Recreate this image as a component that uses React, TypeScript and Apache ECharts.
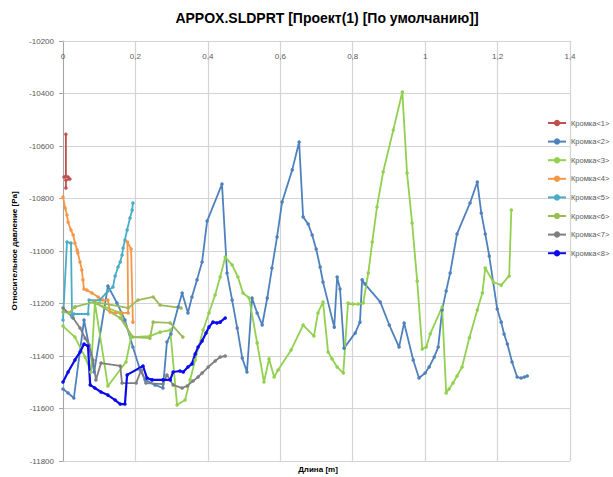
import React, { useEffect, useRef } from "react";
import * as echarts from "echarts";

const TITLE = "APPOX.SLDPRT [Проект(1) [По умолчанию]]";
const X_NAME = "Длина [m]";
const Y_NAME = "Относительное давление [Pa]";

const SERIES_NAMES = ["Кромка<1>", "Кромка<2>", "Кромка<3>", "Кромка<4>", "Кромка<5>", "Кромка<6>", "Кромка<7>", "Кромка<8>"];
const SERIES_COLORS = ["#C0504D", "#4F81BD", "#92D050", "#F79646", "#4BACC6", "#9BBB59", "#7F7F7F", "#0A0AF0"];

const X_MIN = 0, X_MAX = 1.4, X_STEP = 0.2;
const Y_MIN = -11800, Y_MAX = -10200, Y_STEP = 200;

const edge1: number[][] = [[0.008,-10555],[0.008,-10715],[0.003,-10718],[0.014,-10718],[0.019,-10726],[0.008,-10730],[0.008,-10760]];

const edge2: number[][] = [[0,-11526],[0.014,-11541],[0.030,-11560],[0.058,-11263],[0.086,-11461],[0.124,-11133],[0.149,-11198],[0.171,-11263],[0.193,-11366],[0.213,-11453],[0.227,-11491],[0.254,-11510],[0.276,-11522],[0.287,-11347],[0.298,-11316],[0.318,-11213],[0.329,-11160],[0.345,-11236],[0.356,-11175],[0.370,-11110],[0.384,-11042],[0.398,-10886],[0.439,-10745],[0.453,-11084],[0.467,-11187],[0.481,-11293],[0.495,-11408],[0.508,-11461],[0.522,-11179],[0.536,-11236],[0.550,-11282],[0.564,-11179],[0.577,-11065],[0.591,-10947],[0.605,-10813],[0.633,-10691],[0.652,-10585],[0.663,-10870],[0.677,-10897],[0.688,-10939],[0.699,-10992],[0.710,-11061],[0.718,-11118],[0.749,-11290],[0.757,-11099],[0.765,-11145],[0.776,-11370],[0.807,-11312],[0.820,-11271],[0.826,-11110],[0.834,-11126],[0.876,-11194],[0.901,-11282],[0.928,-11366],[0.942,-11274],[0.967,-11415],[0.983,-11484],[1.0,-11465],[1.011,-11442],[1.025,-11404],[1.036,-11366],[1.047,-11225],[1.058,-11152],[1.069,-11084],[1.088,-10935],[1.124,-10817],[1.144,-10737],[1.155,-10855],[1.166,-10935],[1.177,-11019],[1.199,-11221],[1.210,-11271],[1.218,-11316],[1.227,-11354],[1.240,-11423],[1.254,-11480],[1.265,-11484],[1.274,-11480],[1.282,-11476]];

const edge3: number[][] = [[0,-11286],[0.033,-11328],[0.061,-11404],[0.077,-11461],[0.088,-11198],[0.124,-11514],[0.174,-11423],[0.188,-11328],[0.158,-11236],[0.088,-11198],[0.158,-11236],[0.188,-11328],[0.240,-11324],[0.268,-11309],[0.296,-11301],[0.315,-11587],[0.337,-11568],[0.351,-11491],[0.365,-11415],[0.387,-11301],[0.403,-11236],[0.420,-11168],[0.434,-11099],[0.448,-11023],[0.467,-11053],[0.483,-11099],[0.497,-11160],[0.514,-11179],[0.536,-11350],[0.555,-11499],[0.569,-11411],[0.583,-11480],[0.594,-11453],[0.630,-11377],[0.663,-11282],[0.693,-11324],[0.704,-11236],[0.718,-11194],[0.732,-11385],[0.743,-11411],[0.757,-11442],[0.774,-11465],[0.787,-11198],[0.801,-11202],[0.815,-11202],[0.829,-11198],[0.843,-11084],[0.854,-10966],[0.867,-10832],[0.884,-10699],[0.912,-10539],[0.937,-10394],[0.950,-10703],[0.964,-10893],[0.978,-11114],[0.992,-11373],[1.003,-11366],[1.014,-11316],[1.047,-11213],[1.058,-11541],[1.066,-11526],[1.077,-11503],[1.088,-11476],[1.102,-11442],[1.122,-11331],[1.144,-11225],[1.158,-11160],[1.166,-11065],[1.188,-11118],[1.210,-11130],[1.232,-11095],[1.238,-10844]];

const edge4: number[][] = [[0,-10794],[0.006,-10836],[0.011,-10863],[0.014,-10890],[0.022,-10920],[0.028,-10939],[0.033,-10970],[0.039,-10996],[0.041,-11008],[0.047,-11042],[0.052,-11072],[0.055,-11110],[0.058,-11145],[0.066,-11149],[0.080,-11160],[0.097,-11175],[0.110,-11187],[0.124,-11187],[0.130,-11232],[0.144,-11236],[0.163,-11236],[0.180,-11236],[0.178,-10966],[0.188,-10992],[0.193,-11271]];

const edge5: number[][] = [[0,-11263],[0.011,-10966],[0.022,-10970],[0.025,-11251],[0.030,-11240],[0.069,-11240],[0.072,-11187],[0.102,-11187],[0.124,-11152],[0.138,-11137],[0.144,-11095],[0.152,-11061],[0.158,-11042],[0.163,-11015],[0.166,-10989],[0.171,-10958],[0.177,-10920],[0.185,-10874],[0.191,-10844],[0.193,-10817]];

const edge6: number[][] = [[0.326,-11217],[0.268,-11206],[0.249,-11175],[0.207,-11187],[0.180,-11217],[0.086,-11194],[0.033,-11213],[0.017,-11236],[0,-11232],[0.017,-11236],[0.033,-11213],[0.086,-11194],[0.158,-11255],[0.193,-11328],[0.240,-11332],[0.249,-11271],[0.296,-11274],[0.331,-11328]];

const edge7: number[][] = [[0,-11217],[0.028,-11255],[0.047,-11293],[0.061,-11332],[0.072,-11358],[0.083,-11415],[0.091,-11491],[0.105,-11427],[0.158,-11438],[0.163,-11503],[0.202,-11503],[0.216,-11453],[0.229,-11503],[0.276,-11507],[0.287,-11472],[0.304,-11510],[0.329,-11522],[0.343,-11514],[0.359,-11495],[0.373,-11480],[0.384,-11465],[0.401,-11442],[0.420,-11419],[0.434,-11404],[0.448,-11400]];

const edge8: number[][] = [[0,-11499],[0.014,-11461],[0.033,-11415],[0.047,-11385],[0.058,-11354],[0.069,-11362],[0.075,-11510],[0.088,-11522],[0.105,-11537],[0.124,-11549],[0.144,-11568],[0.158,-11583],[0.171,-11583],[0.177,-11472],[0.221,-11438],[0.232,-11484],[0.246,-11491],[0.276,-11491],[0.296,-11491],[0.304,-11461],[0.323,-11457],[0.332,-11461],[0.345,-11442],[0.356,-11430],[0.365,-11392],[0.373,-11366],[0.384,-11343],[0.395,-11312],[0.403,-11290],[0.414,-11271],[0.425,-11274],[0.434,-11271],[0.448,-11255]];

const EDGES = [edge1, edge2, edge3, edge4, edge5, edge6, edge7, edge8];

const FONT = "'Liberation Sans', Arial, sans-serif";

export default function App() {
  const ref = useRef<HTMLDivElement>(null);
  useEffect(() => {
    const chart = echarts.init(ref.current!, null, { renderer: "svg" });
    chart.setOption({
      animation: false,
      backgroundColor: "#ffffff",
      textStyle: { fontFamily: FONT },
      grid: { left: 63, right: 43, top: 41, bottom: 16, containLabel: false },
      graphic: [
        {
          type: "text",
          x: 327,
          y: 18,
          style: {
            text: TITLE,
            fill: "#000000",
            font: "bold 14px " + FONT,
            textAlign: "center",
            textVerticalAlign: "middle",
          },
        },
        {
          type: "text",
          x: 318,
          y: 469,
          style: {
            text: X_NAME,
            fill: "#000000",
            font: "bold 8px " + FONT,
            textAlign: "center",
            textVerticalAlign: "middle",
          },
        },
      ],
      legend: {
        data: SERIES_NAMES,
        orient: "vertical",
        left: 547,
        top: 119,
        padding: 0,
        itemWidth: 18,
        itemHeight: 8,
        itemGap: 10.6,
        textStyle: { fontSize: 7.5, color: "#595959", lineHeight: 8, fontFamily: FONT },
      },
      xAxis: {
        type: "value",
        min: X_MIN,
        max: X_MAX,
        interval: X_STEP,
        position: "top",
        axisLine: { show: true, lineStyle: { color: "#D4D4D4", width: 1 } },
        axisTick: { show: false },
        axisLabel: {
          inside: true,
          margin: 11,
          fontSize: 8,
          color: "#595959",
          formatter: (v: number) => String(Math.round(v * 10) / 10).replace(".", ","),
        },
        splitLine: { show: true, lineStyle: { color: "#D4D4D4", width: 1.2 } },
      },
      yAxis: {
        type: "value",
        min: Y_MIN,
        max: Y_MAX,
        interval: Y_STEP,
        name: Y_NAME,
        nameLocation: "middle",
        nameGap: 43,
        nameRotate: 90,
        nameTextStyle: { fontSize: 8, fontWeight: "bold", color: "#000000", fontFamily: FONT },
        axisLine: { show: true, lineStyle: { color: "#A6A6A6", width: 1 } },
        axisTick: { show: true, inside: false, length: 4, lineStyle: { color: "#A6A6A6" } },
        axisLabel: { fontSize: 8, color: "#595959", margin: 9, formatter: (v: number) => String(v) },
        splitLine: { show: true, lineStyle: { color: "#D4D4D4", width: 1.2 } },
      },
      series: EDGES.map((data, i) => ({
        name: SERIES_NAMES[i],
        type: "line",
        data,
        symbol: "circle",
        symbolSize: 3.5,
        showSymbol: true,
        color: SERIES_COLORS[i],
        lineStyle: { width: i === 7 ? 2.2 : 1.8, color: SERIES_COLORS[i] },
        itemStyle: { color: SERIES_COLORS[i] },
        emphasis: { disabled: true },
      })),
    });
    return () => chart.dispose();
  }, []);
  return <div ref={ref} style={{ position: "fixed", left: 0, top: 0, width: 613, height: 477 }} />;
}
